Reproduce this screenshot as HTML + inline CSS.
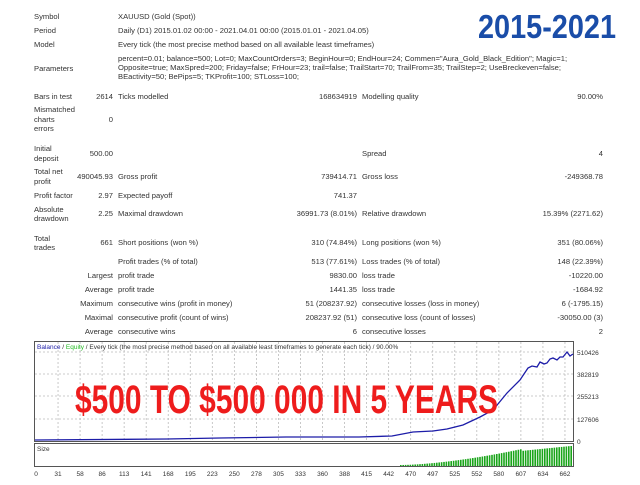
<!DOCTYPE html>
<html><head><meta charset="utf-8"><style>
body{margin:0;background:#fff;width:640px;height:480px;overflow:hidden}
svg text{font-family:"Liberation Sans",sans-serif;font-size:7.6px;fill:#333}
.r{text-anchor:end}
</style></head><body>
<svg width="640" height="480" xmlns="http://www.w3.org/2000/svg">
<rect width="640" height="480" fill="#fff"/>
<g>
<text x="34" y="19">Symbol</text><text x="118" y="19">XAUUSD (Gold (Spot))</text>
<text x="34" y="33">Period</text><text x="118" y="33">Daily (D1) 2015.01.02 00:00 - 2021.04.01 00:00 (2015.01.01 - 2021.04.05)</text>
<text x="34" y="47">Model</text><text x="118" y="47">Every tick (the most precise method based on all available least timeframes)</text>
<text x="34" y="71">Parameters</text>
<text x="118" y="61">percent=0.01; balance=500; Lot=0; MaxCountOrders=3; BeginHour=0; EndHour=24; Commen="Aura_Gold_Black_Edition"; Magic=1;</text>
<text x="118" y="70">Opposite=true; MaxSpred=200; Friday=false; FrHour=23; trail=false; TrailStart=70; TrailFrom=35; TrailStep=2; UseBreckeven=false;</text>
<text x="118" y="79">BEactivity=50; BePips=5; TKProfit=100; STLoss=100;</text>
<text x="34" y="99">Bars in test</text><text class="r" x="113" y="99">2614</text><text x="118" y="99">Ticks modelled</text><text class="r" x="357" y="99">168634919</text><text x="362" y="99">Modelling quality</text><text class="r" x="603" y="99">90.00%</text>
<text x="34" y="112">Mismatched</text><text x="34" y="122">charts</text><text x="34" y="131">errors</text><text class="r" x="113" y="122">0</text>
<text x="34" y="151">Initial</text><text x="34" y="161">deposit</text><text class="r" x="113" y="156">500.00</text><text x="362" y="156">Spread</text><text class="r" x="603" y="156">4</text>
<text x="34" y="174">Total net</text><text x="34" y="184">profit</text><text class="r" x="113" y="179">490045.93</text><text x="118" y="179">Gross profit</text><text class="r" x="357" y="179">739414.71</text><text x="362" y="179">Gross loss</text><text class="r" x="603" y="179">-249368.78</text>
<text x="34" y="198">Profit factor</text><text class="r" x="113" y="198">2.97</text><text x="118" y="198">Expected payoff</text><text class="r" x="357" y="198">741.37</text>
<text x="34" y="212">Absolute</text><text x="34" y="221">drawdown</text><text class="r" x="113" y="216">2.25</text><text x="118" y="216">Maximal drawdown</text><text class="r" x="357" y="216">36991.73 (8.01%)</text><text x="362" y="216">Relative drawdown</text><text class="r" x="603" y="216">15.39% (2271.62)</text>
<text x="34" y="241">Total</text><text x="34" y="250">trades</text><text class="r" x="113" y="245">661</text><text x="118" y="245">Short positions (won %)</text><text class="r" x="357" y="245">310 (74.84%)</text><text x="362" y="245">Long positions (won %)</text><text class="r" x="603" y="245">351 (80.06%)</text>
<text x="118" y="264">Profit trades (% of total)</text><text class="r" x="357" y="264">513 (77.61%)</text><text x="362" y="264">Loss trades (% of total)</text><text class="r" x="603" y="264">148 (22.39%)</text>
<text class="r" x="113" y="278">Largest</text><text x="118" y="278">profit trade</text><text class="r" x="357" y="278">9830.00</text><text x="362" y="278">loss trade</text><text class="r" x="603" y="278">-10220.00</text>
<text class="r" x="113" y="292">Average</text><text x="118" y="292">profit trade</text><text class="r" x="357" y="292">1441.35</text><text x="362" y="292">loss trade</text><text class="r" x="603" y="292">-1684.92</text>
<text class="r" x="113" y="306">Maximum</text><text x="118" y="306">consecutive wins (profit in money)</text><text class="r" x="357" y="306">51 (208237.92)</text><text x="362" y="306">consecutive losses (loss in money)</text><text class="r" x="603" y="306">6 (-1795.15)</text>
<text class="r" x="113" y="320">Maximal</text><text x="118" y="320">consecutive profit (count of wins)</text><text class="r" x="357" y="320">208237.92 (51)</text><text x="362" y="320">consecutive loss (count of losses)</text><text class="r" x="603" y="320">-30050.00 (3)</text>
<text class="r" x="113" y="334">Average</text><text x="118" y="334">consecutive wins</text><text class="r" x="357" y="334">6</text><text x="362" y="334">consecutive losses</text><text class="r" x="603" y="334">2</text>
</g>
<text x="478" y="38" style="font-family:'Liberation Sans',sans-serif;font-weight:bold;font-size:33px;fill:#1a4da8" textLength="138" lengthAdjust="spacingAndGlyphs">2015-2021</text>
<!-- chart -->
<rect x="34.5" y="341.5" width="539" height="100" fill="#fff" stroke="#555"/>
<g stroke="#bbb" stroke-dasharray="2,2" stroke-width="0.8">
<line x1="35" x2="573" y1="352" y2="352"/><line x1="35" x2="573" y1="374" y2="374"/><line x1="35" x2="573" y1="396" y2="396"/><line x1="35" x2="573" y1="419" y2="419"/>
<g id="vg"></g>
</g>
<rect x="34.5" y="443.5" width="539" height="23" fill="#fff" stroke="#555"/>
<g id="bars" fill="#1aa51a"></g>
<polyline fill="none" stroke="#1c1ca8" stroke-width="1.3" points="35,440 167,439 220,438 286,437 359,437 392,436 413,432 433,431 447,429 463,425 480,417 493,410 507,393 520,380 528,368 532,366 537,367 540,362 544,364 547,363 550,359 553,358 557,360 560,357 563,357 567,352 570,356 573,354"/>
<text x="37" y="349" style="font-size:6.5px"><tspan fill="#2222aa" style="fill:#2222aa">Balance</tspan> / <tspan style="fill:#22bb22">Equity</tspan> / Every tick (the most precise method based on all available least timeframes to generate each tick) / 90.00%</text>
<text x="37" y="451" style="font-size:6.5px">Size</text>
<g style="font-size:6.5px">
<text x="577" y="355" style="font-size:6.5px">510426</text><text x="577" y="377" style="font-size:6.5px">382819</text><text x="577" y="399" style="font-size:6.5px">255213</text><text x="577" y="422" style="font-size:6.5px">127606</text><text x="577" y="444" style="font-size:6.5px">0</text>
</g>
<g id="xl"></g>
<text x="75" y="413" style="font-family:'Liberation Sans',sans-serif;font-weight:bold;font-size:40px;fill:#ee1c1c" textLength="423" lengthAdjust="spacingAndGlyphs">$500 TO $500 000 IN 5 YEARS</text>
<script>
var ns="http://www.w3.org/2000/svg";
var labs=[0,31,58,86,113,141,168,195,223,250,278,305,333,360,388,415,442,470,497,525,552,580,607,634,662];
var xl=document.getElementById("xl"),vg=document.getElementById("vg");
labs.forEach(function(l,i){var x=36+i*22.04;
var t=document.createElementNS(ns,"text");t.setAttribute("x",x);t.setAttribute("y",476);t.setAttribute("text-anchor","middle");t.setAttribute("style","font-size:6.5px");t.textContent=l;xl.appendChild(t);
if(i>0){var ln=document.createElementNS(ns,"line");ln.setAttribute("x1",x);ln.setAttribute("x2",x);ln.setAttribute("y1",342);ln.setAttribute("y2",441);vg.appendChild(ln);
var l2=document.createElementNS(ns,"line");l2.setAttribute("x1",x);l2.setAttribute("x2",x);l2.setAttribute("y1",444);l2.setAttribute("y2",466);vg.appendChild(l2);}});
var b=document.getElementById("bars");
for(var x=400;x<572;x+=2.4){var f=(x-400)/172;var h=Math.max(1,Math.min(20,1+28*Math.pow(f,1.6)));
if(x>520)h=Math.min(20,15+(x-520)/10);
var r=document.createElementNS(ns,"rect");r.setAttribute("x",x);r.setAttribute("y",466-h);r.setAttribute("width",1.6);r.setAttribute("height",h);b.appendChild(r);}
</script>
</svg>
</body></html>
